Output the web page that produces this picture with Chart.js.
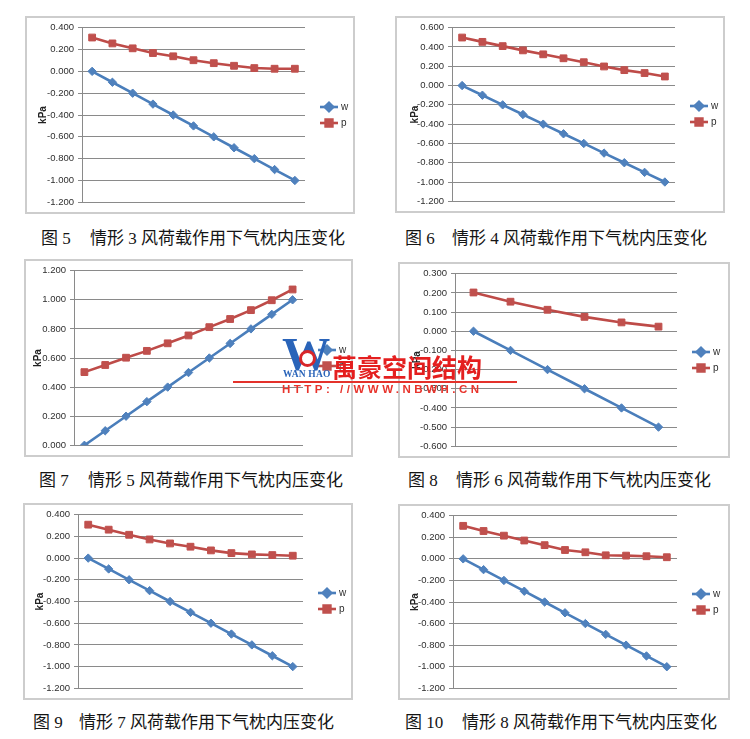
<!DOCTYPE html>
<html>
<head>
<meta charset="utf-8">
<script src="https://cdn.jsdelivr.net/npm/chart.js@4.4.1/dist/chart.umd.min.js"></script>
<style>
  html, body { margin: 0; padding: 0; background: #fff; }
  body { width: 750px; height: 739px; position: relative; overflow: hidden; }
  .box { position: absolute; border: 2px solid #cdcdcd; box-sizing: border-box; background: #fff; }
  .box canvas { display: block; }
  .cap { position: absolute; font-family: "Liberation Serif", "Noto Sans CJK SC", serif; font-size: 17px;
         font-weight: 400; color: #151515; white-space: nowrap; line-height: 1; }
  #mark div { position: absolute; white-space: nowrap; line-height: 1; }
  .mk-logo { font-family: "Liberation Serif", serif; font-weight: bold; font-size: 46px; color: #2a64b9;
             transform: scaleX(1.05); transform-origin: left top; }
  .mk-ring { width: 11px; height: 11px; border-radius: 50%; background: #fff; border: 3px solid #d8262a; }
  .mk-en { font-family: "Liberation Serif", serif; font-weight: bold; font-size: 9.5px; color: #2a64b9; letter-spacing: 0.2px; }
  .mk-cn { font-family: "Noto Sans CJK SC", sans-serif; font-weight: bold; font-size: 25px; color: #e41f1f; }
  .mk-rule { height: 2px; background: #e4322b; }
  .mk-url { font-family: "Liberation Sans", sans-serif; font-weight: bold; font-size: 11.5px; color: #e8342c; letter-spacing: 3.5px; }
</style>
</head>
<body>
<div id="charts"></div>
<div id="caps"></div>
<div id="mark">
  <div class="mk-logo" style="left:282px;top:332px;">W</div>
  <div class="mk-ring" style="left:299px;top:350px;"></div>
  <div class="mk-en" style="left:283px;top:370px;">WAN HAO</div>
  <div class="mk-cn" style="left:332px;top:354px;">萬豪空间结构</div>
  <div class="mk-rule" style="left:233px;top:381px;width:284px;"></div>
  <div class="mk-url" style="left:282px;top:384px;">HTTP: //WWW.NBWH.CN</div>
</div>
<script>
// ---- data ----
const steps11 = ['1', '2', '3', '4', '5', '6', '7', '8', '9', '10', '11'];
const steps6 = ['1', '2', '3', '4', '5', '6'];

// 情形3
const w3 = [0, -0.1, -0.2, -0.3, -0.4, -0.5, -0.6, -0.7, -0.8, -0.9, -1.0];
const p3 = [0.310, 0.256, 0.211, 0.168, 0.138, 0.102, 0.075, 0.051, 0.030, 0.024, 0.024];
// 情形4
const w4 = [0, -0.1, -0.2, -0.3, -0.4, -0.5, -0.6, -0.7, -0.8, -0.9, -1.0];
const p4 = [0.498, 0.453, 0.409, 0.365, 0.324, 0.283, 0.242, 0.198, 0.160, 0.130, 0.094];
// 情形5
const w5 = [0, 0.1, 0.2, 0.3, 0.4, 0.5, 0.6, 0.7, 0.8, 0.9, 1.0];
const p5 = [0.503, 0.552, 0.602, 0.649, 0.701, 0.755, 0.812, 0.868, 0.929, 0.997, 1.071];
// 情形6
const w6 = [0, -0.1, -0.2, -0.3, -0.4, -0.5];
const p6 = [0.202, 0.154, 0.112, 0.075, 0.046, 0.024];
// 情形7
const w7 = [0, -0.1, -0.2, -0.3, -0.4, -0.5, -0.6, -0.7, -0.8, -0.9, -1.0];
const p7 = [0.308, 0.262, 0.215, 0.172, 0.135, 0.105, 0.071, 0.046, 0.034, 0.028, 0.022];
// 情形8
const w8 = [0, -0.1, -0.2, -0.3, -0.4, -0.5, -0.6, -0.7, -0.8, -0.9, -1.0];
const p8 = [0.306, 0.258, 0.215, 0.170, 0.127, 0.082, 0.061, 0.033, 0.030, 0.024, 0.015];

// y axis ranges: [min, max, step]
const yRange3 = [-1.2, 0.4, 0.2];
const yRange4 = [-1.2, 0.6, 0.2];
const yRange5 = [0, 1.2, 0.2];
const yRange6 = [-0.6, 0.3, 0.1];
const yRange7 = [-1.2, 0.4, 0.2];
const yRange8 = [-1.2, 0.4, 0.2];

const seriesNames = ['w', 'p'];
const axisTitle = 'kPa';

const figNos = ['图 5', '图 6', '图 7', '图 8', '图 9', '图 10'];
const figTexts = [
  '情形 3 风荷载作用下气枕内压变化',
  '情形 4 风荷载作用下气枕内压变化',
  '情形 5 风荷载作用下气枕内压变化',
  '情形 6 风荷载作用下气枕内压变化',
  '情形 7 风荷载作用下气枕内压变化',
  '情形 8 风荷载作用下气枕内压变化'
];

// ---- layout (page pixels) ----
// box: [x, y, w, h]; plot: [left, top, right, bottom]
const panels = [
  { labels: steps11, w: w3, p: p3, y: yRange3, box: [25, 16, 330, 198], plot: [82, 27, 305, 204], titleX: 43 },
  { labels: steps11, w: w4, p: p4, y: yRange4, box: [395, 16, 330, 197], plot: [452, 27, 675, 205], titleX: 415 },
  { labels: steps11, w: w5, p: p5, y: yRange5, box: [24, 259, 329, 198], plot: [74, 269, 303, 447], titleX: 38 },
  { labels: steps6,  w: w6, p: p6, y: yRange6, box: [398, 262, 332, 196], plot: [455, 271, 677, 448], titleX: 417 },
  { labels: steps11, w: w7, p: p7, y: yRange7, box: [23, 503, 330, 197], plot: [78, 513, 303, 689], titleX: 40 },
  { labels: steps11, w: w8, p: p8, y: yRange8, box: [398, 504, 332, 196], plot: [453, 514, 677, 691], titleX: 415 }
];
const captionPos = [
  { y: 230, no: 41, text: 90 },
  { y: 230, no: 405, text: 452 },
  { y: 472, no: 39, text: 88 },
  { y: 472, no: 408, text: 456 },
  { y: 714, no: 33, text: 79 },
  { y: 714, no: 405, text: 462 }
];

const BLUE_LINE = '#4a7ebb', BLUE_MARK = '#4f81bd';
const RED_LINE = '#be4b48', RED_MARK = '#c0504d';
const GRID = '#8a8a8a';
const TEXT = '#2e2e2e';

// legend drawn as line segment + marker, to the right of the plot area
const lineLegend = {
  id: 'lineLegend',
  afterDraw(chart) {
    const { ctx, chartArea } = chart;
    const x0 = chartArea.right + 15;
    const segLen = 18;
    const mid = (chartArea.top + chartArea.bottom) / 2;
    const gap = 16;
    const n = chart.data.datasets.length;
    chart.data.datasets.forEach((ds, i) => {
      const y = Math.round(mid + (i - (n - 1) / 2) * gap);
      ctx.save();
      ctx.strokeStyle = ds.borderColor;
      ctx.lineWidth = ds.borderWidth;
      ctx.beginPath();
      ctx.moveTo(x0, y);
      ctx.lineTo(x0 + segLen, y);
      ctx.stroke();
      ctx.fillStyle = ds.pointBackgroundColor;
      ctx.strokeStyle = ds.pointBorderColor;
      Chart.helpers.drawPoint(ctx, {
        pointStyle: ds.pointStyle, rotation: 0, radius: ds.pointRadius, borderWidth: 1
      }, x0 + segLen / 2, y);
      ctx.fillStyle = TEXT;
      ctx.font = '10px "Liberation Sans", sans-serif';
      ctx.textAlign = 'left';
      ctx.textBaseline = 'middle';
      ctx.fillText(ds.label, x0 + segLen + 3, y);
      ctx.restore();
    });
  }
};

const chartsHost = document.getElementById('charts');
panels.forEach(pn => {
  const [bx, by, bw, bh] = pn.box;
  const div = document.createElement('div');
  div.className = 'box';
  div.style.left = bx + 'px';
  div.style.top = by + 'px';
  div.style.width = bw + 'px';
  div.style.height = bh + 'px';
  const cv = document.createElement('canvas');
  div.appendChild(cv);
  chartsHost.appendChild(div);

  const cl = bx + 2, ct = by + 2, cw = bw - 4, ch = bh - 4;
  const [pl, pt, pr, pb] = pn.plot;
  const yWidth = pl - cl;

  new Chart(cv, {
    type: 'line',
    data: {
      labels: pn.labels,
      datasets: [
        {
          label: seriesNames[0], data: pn.w,
          borderColor: BLUE_LINE, backgroundColor: BLUE_MARK, borderWidth: 2.6, tension: 0,
          pointStyle: 'rectRot', pointRadius: 4.2, pointHoverRadius: 4.2,
          pointBackgroundColor: BLUE_MARK, pointBorderColor: BLUE_MARK, pointBorderWidth: 1
        },
        {
          label: seriesNames[1], data: pn.p,
          borderColor: RED_LINE, backgroundColor: RED_MARK, borderWidth: 2.6, tension: 0,
          pointStyle: 'rect', pointRadius: 4.8, pointHoverRadius: 4.8,
          pointBackgroundColor: RED_MARK, pointBorderColor: RED_MARK, pointBorderWidth: 1
        }
      ]
    },
    options: {
      responsive: true,
      maintainAspectRatio: false,
      animation: false,
      events: [],
      layout: {
        padding: { left: 0, top: pt - ct, right: cl + cw - pr, bottom: ct + ch - pb }
      },
      plugins: { legend: { display: false }, tooltip: { enabled: false } },
      scales: {
        x: { type: 'category', display: false, offset: true },
        y: {
          min: pn.y[0], max: pn.y[1],
          ticks: {
            stepSize: pn.y[2],
            color: TEXT,
            padding: 4,
            font: { family: '"Liberation Sans", sans-serif', size: 9.5 },
            callback: v => (Math.abs(v) < 1e-9 ? 0 : v).toFixed(3)
          },
          grid: { color: GRID, lineWidth: 1, tickLength: 4, drawTicks: true },
          border: { color: GRID, width: 1 },
          title: {
            display: true, text: axisTitle, color: '#222',
            font: { family: '"Liberation Sans", sans-serif', size: 10, weight: 'bold' },
            padding: { top: pn.titleX - cl - 6, bottom: 0 }
          },
          afterFit(scale) { scale.width = yWidth; }
        }
      }
    },
    plugins: [lineLegend]
  });
});

const capsHost = document.getElementById('caps');
captionPos.forEach((cp, i) => {
  const a = document.createElement('div');
  a.className = 'cap';
  a.style.left = cp.no + 'px';
  a.style.top = cp.y + 'px';
  a.textContent = figNos[i];
  const b = document.createElement('div');
  b.className = 'cap';
  b.style.left = cp.text + 'px';
  b.style.top = cp.y + 'px';
  b.textContent = figTexts[i];
  capsHost.appendChild(a);
  capsHost.appendChild(b);
});
</script>
</body>
</html>
